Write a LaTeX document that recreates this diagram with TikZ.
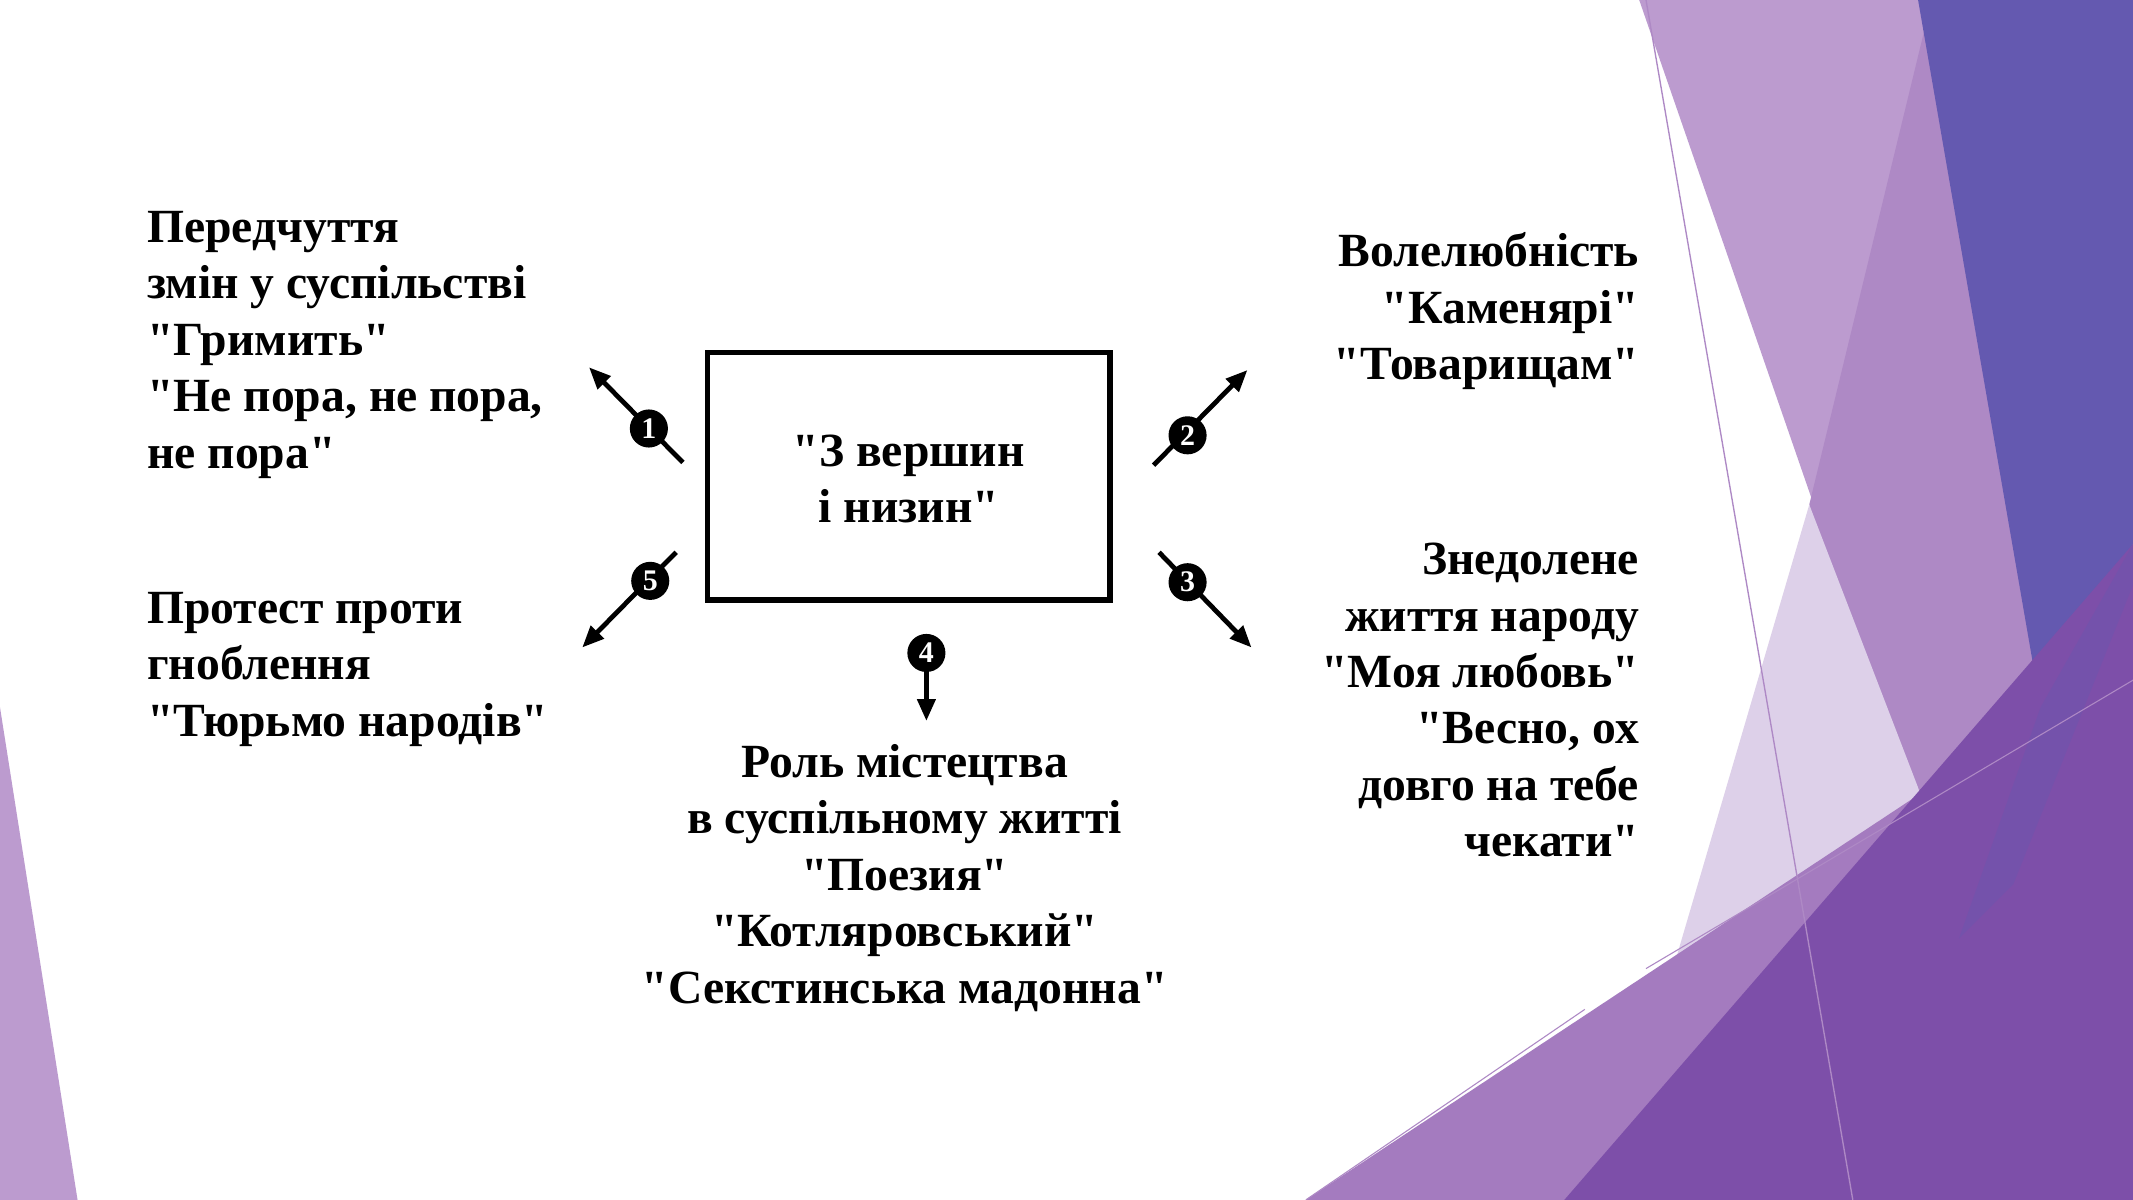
\documentclass[tikz,border=0pt]{standalone}
\usepackage{fontspec}
\setmainfont{Liberation Serif}
\newfontfamily\qfont{Liberation Serif}
\usetikzlibrary{arrows.meta}
\definecolor{lp}{HTML}{BC9BCF}
\definecolor{mp}{HTML}{AE89C5}
\definecolor{bl}{HTML}{6459B0}
\definecolor{vi}{HTML}{7D4FA9}
\definecolor{wl}{HTML}{DDD0E9}
\definecolor{bp}{HTML}{A47BBF}
\newcommand{\qq}{{\qfont\bfseries"}}
\tikzset{
 lbl/.style={font=\fontsize{35}{41.5}\selectfont\bfseries, inner sep=0pt},
 arr/.style={line width=3.5pt, -{Triangle[length=16pt,width=13pt]}},
 num/.style={circle, fill=black, text=white, minimum size=28pt, inner sep=0pt, font=\fontsize{22}{22}\selectfont\bfseries},
}
\begin{document}
\begin{tikzpicture}[x=1pt,y=-1pt]
\useasboundingbox (0,0) rectangle (1568,882);
\fill[white] (0,0) rectangle (1568,882);
% background shapes
\fill[lp] (1205,0) -- (1568,0) -- (1568,882) -- (1510,882) -- cycle;
\fill[mp] (1330,371) -- (1420,0) -- (1568,0) -- (1568,882) -- (1480,882) -- cycle;
\fill[bl] (1410,0) -- (1568,0) -- (1568,400) -- (1500,520) -- cycle;
\fill[wl] (1330,371) -- (1410,579) -- (1450,700) -- (1230,882) -- (1180,882) -- cycle;
\fill[bp] (960,882) -- (1568,480) -- (1568,882) -- cycle;
\fill[vi] (1150,882) -- (1568,400) -- (1568,882) -- cycle;
\fill[bl!55!vi,opacity=.6] (1440,690) -- (1500,520) -- (1568,400) -- (1568,430) -- (1480,650) -- cycle;
\fill[lp] (0,520) -- (57,882) -- (0,882) -- cycle;
\draw[mp,line width=1pt] (1210,0) -- (1362,882);
\draw[mp,line width=0.8pt] (960,882) -- (1165,742);
\draw[mp,line width=0.8pt] (1210,712) -- (1568,500);
% main box
\node[draw, line width=4pt, minimum width=296pt, minimum height=182pt, inner sep=0pt] (box) at (668,350) {};
\node[lbl, align=center] (title) at (668,352) {\qq З вершин\\і низин\qq};
% arrows
\coordinate (s1) at (502,340); \coordinate (e1) at (433,270);
\coordinate (s2) at (848,342); \coordinate (e2) at (917,272);
\coordinate (s3) at (852,406); \coordinate (e3) at (920,476);
\coordinate (s4) at (681,468); \coordinate (e4) at (681,530);
\coordinate (s5) at (497,406); \coordinate (e5) at (428,476);
\foreach \i in {1,...,5} {\draw[arr] (s\i) -- (e\i);}
\node[num] (n1) at (477,315) {1};
\node[num] (n2) at (873,320) {2};
\node[num] (n3) at (873,428) {3};
\node[num] (n4) at (681,480) {4};
\node[num] (n5) at (478,427) {5};
% texts
\node[lbl, align=left, anchor=north west] (t1) at (108,155) {Передчуття\\змін у суспільстві\\\qq Гримить\qq\\\qq Не пора, не пора,\\не пора\qq};
\node[lbl, align=right, anchor=north east] (t2) at (1205,171) {Волелюбність\\\qq Каменярі\qq\\\qq Товарищам\qq};
\node[lbl, align=right, anchor=north east] (t3) at (1205,399) {Знедолене\\життя народу\\\qq Моя любовь\qq\\\qq Весно, ох\\довго на тебе\\чекати\qq};
\node[lbl, align=left, anchor=north west] (t5) at (108,435) {Протест проти\\гноблення\\\qq Тюрьмо народів\qq};
\node[lbl, align=center, anchor=north] (t4) at (665,547) {Роль містецтва\\в суспільному житті\\\qq Поезия\qq\\\qq Котляровський\qq\\\qq Секстинська мадонна\qq};
\end{tikzpicture}
\end{document}
